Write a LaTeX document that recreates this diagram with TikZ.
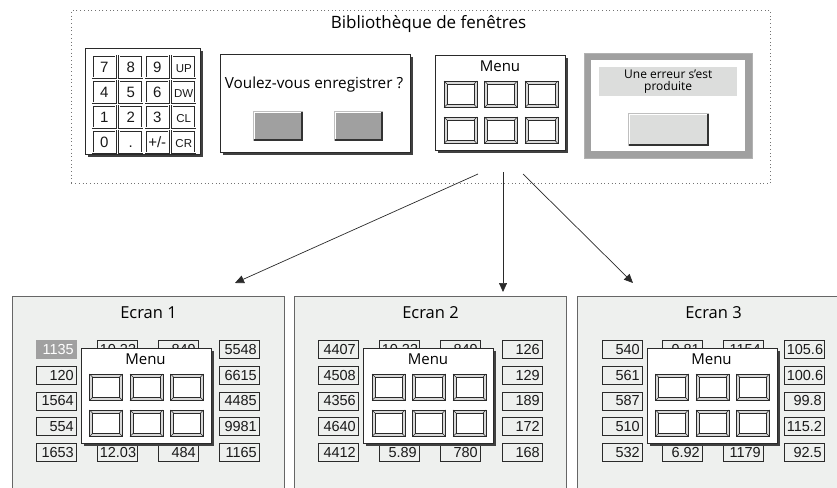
\documentclass[tikz,border=0pt]{standalone}
\usepackage{fontspec}
\setmainfont{Open Sans}
\newfontfamily\arialf{Liberation Sans}
\usetikzlibrary{arrows.meta,shadows,calc}
\definecolor{scrbg}{HTML}{EEF0EE}
\definecolor{btngray}{HTML}{A0A0A0}
\definecolor{lightbtn}{HTML}{DCDDDC}
\definecolor{edge}{HTML}{2A2A2A}
\newcommand\mbtn[2]{%
  \filldraw[fill=black!15, draw=edge, line width=0.6pt] (#1,#2) rectangle ++(33,26.5);
  \filldraw[fill=white, draw=edge, line width=0.6pt] (#1+3,#2+3) rectangle ++(27,20.5);
  \draw[edge, line width=0.4pt] (#1,#2) -- ++(3,3) (#1+33,#2) -- ++(-3,3)
        (#1,#2+26.5) -- ++(3,-3) (#1+33,#2+26.5) -- ++(-3,-3);}
\newcommand\menupanel[3]{%
  \node[win, minimum width=130pt, minimum height=95pt] (#3) at (#1,#2) {};
  \node[ttl, font=\fontsize{15}{17}\selectfont] (#3-t) at (#1+65,#2+11) {Menu};
  \foreach \c in {0,1,2}{\foreach \r in {0,1}{\mbtn{#1+9+40.5*\c}{#2+26+36*\r}}}}
\newcommand\bevbtn[6]{%
  \node[fill=#5, draw=black!25, line width=0.5pt, minimum width=#3pt, minimum height=#4pt, anchor=north west, inner sep=0pt] (#6) at (#1,#2) {};
  \draw[white, line width=1.2pt] ([xshift=1.5pt,yshift=1.5pt]#6.south west) -- ([xshift=1.5pt,yshift=-1.5pt]#6.north west) -- ([xshift=-1.5pt,yshift=-1.5pt]#6.north east);
  \draw[black!80, line width=1.4pt] ([xshift=0.7pt,yshift=0.7pt]#6.south west) -- ([xshift=-0.7pt,yshift=0.7pt]#6.south east) -- ([xshift=-0.7pt,yshift=-0.7pt]#6.north east);}
\begin{document}
\begin{tikzpicture}[x=1pt,y=-1pt,
  win/.style={draw=edge, fill=white, line width=0.8pt, inner sep=0pt, anchor=north west,
    drop shadow={shadow xshift=3pt, shadow yshift=-3pt, fill=black!75, opacity=1}},
  ttl/.style={inner sep=0pt, text=black},
  kb/.style={draw=edge, double=white, double distance=0.8pt, line width=0.5pt,
    minimum width=23pt, minimum height=22pt, inner sep=0pt, anchor=north west,
    text height=10.5pt, text depth=0pt,
    font=\arialf\fontsize{15}{15}\selectfont, text=black!90},
  numb/.style={draw=edge, line width=0.6pt, minimum height=18pt, text width=35pt,
    inner xsep=2.5pt, inner ysep=0pt, align=right, anchor=north west,
    font=\arialf\fontsize{14.5}{14.5}\selectfont, text=black!90},
  scr/.style={draw=black!60, fill=scrbg, line width=0.8pt, anchor=north west,
    minimum width=272pt, minimum height=200pt, inner sep=0pt},
  arr/.style={draw=edge, line width=0.7pt, -{Triangle[length=9pt,width=8pt]}}]
\useasboundingbox (0,0) rectangle (837,487);
\clip (0,0) rectangle (837,487);
% library frame
\node[draw=black!55, dash pattern=on 0.9pt off 2.8pt, line width=0.9pt, anchor=north west,
  minimum width=699pt, minimum height=173pt, inner sep=0pt] (lib) at (71,10) {};
\node[ttl, font=\fontsize{17}{19}\selectfont] (libt) at (428.5,24) {Bibliothèque de fenêtres};
% keypad
\node[win, minimum width=115pt, minimum height=106pt] (kpad) at (85,48) {};
\foreach \row [count=\j from 0] in {{7,8,9,UP},{4,5,6,DW},{1,2,3,CL},{0,.,+/-,CR}}{
  \foreach \lab [count=\i from 0] in \row {
    \node[kb] (k-\i-\j) at (92.5+26.5*\i,55.5+25*\j) {\ifnum\i=3 \fontsize{11.5}{11.5}\selectfont\fi\lab};}}
% dialog
\node[win, minimum width=190pt, minimum height=98pt] (dlg) at (220,54) {};
\node[ttl, font=\fontsize{15.3}{18}\selectfont] (dlgt) at (314,85) {Voulez-vous enregistrer ?};
\bevbtn{253}{111}{49}{29}{btngray}{yes}
\bevbtn{334}{111}{48}{29}{btngray}{no}
% menu
\menupanel{435}{55}{menu}
% error
\node[fill=btngray, draw=black!30, line width=0.5pt, anchor=north west, minimum width=168pt, minimum height=105pt, inner sep=0pt] (err) at (584,53) {};
\node[fill=white, anchor=north west, minimum width=154pt, minimum height=91pt, inner sep=0pt] (erri) at (591,60) {};
\node[fill=lightbtn, anchor=north west, minimum width=138pt, minimum height=29pt, inner sep=0pt,
  align=center, font=\fontsize{12}{12.5}\selectfont, text=black] (errt) at (599,67) {Une erreur s'est\\produite};
\bevbtn{628}{113}{80}{32}{lightbtn}{ok}
% arrows
\coordinate (a1s) at (478,174); \coordinate (a1e) at (235,283);
\coordinate (a2s) at (503,172); \coordinate (a2e) at (503,292);
\coordinate (a3s) at (523,174); \coordinate (a3e) at (633,283);
\draw[arr] (a1s) -- (a1e);
\draw[arr] (a2s) -- (a2e);
\draw[arr] (a3s) -- (a3e);
% screens
\foreach \L/\n/\ta/\tb/\tc/\td in {12/1/10.23/12.03/849/484, 294/2/10.23/5.89/849/780, 577/3/9.81/6.92/1154/1179}{
  \node[scr] (ecr\n) at (\L,296) {};
  \node[ttl, font=\fontsize{16.5}{19}\selectfont] (ecr\n-t) at (\L+136.5,313) {Ecran \n};
  \node[numb] (e\n-b1) at (\L+85,340) {\ta};
  \node[numb] (e\n-b5) at (\L+85,443) {\tb};
  \node[numb] (e\n-c1) at (\L+146,340) {\tc};
  \node[numb] (e\n-c5) at (\L+146,443) {\td};
}
\menupanel{80.5}{348}{m1}
\menupanel{363}{348}{m2}
\menupanel{646.5}{348}{m3}
% screen 1 values
\node[numb, fill=btngray, draw=btngray, text=white] (e1-a0) at (36,340) {1135};
\foreach \v [count=\r from 1] in {120,1564,554,1653}{\node[numb] (e1-a\r) at (36,340+25.75*\r) {\v};}
\foreach \v [count=\r from 0] in {5548,6615,4485,9981,1165}{\node[numb] (e1-d\r) at (219,340+25.75*\r) {\v};}
% screen 2 values
\foreach \v [count=\r from 0] in {4407,4508,4356,4640,4412}{\node[numb] (e2-a\r) at (318,340+25.75*\r) {\v};}
\foreach \v [count=\r from 0] in {126,129,189,172,168}{\node[numb] (e2-d\r) at (502,340+25.75*\r) {\v};}
% screen 3 values
\foreach \v [count=\r from 0] in {540,561,587,510,532}{\node[numb] (e3-a\r) at (602,340+25.75*\r) {\v};}
\foreach \v [count=\r from 0] in {105.6,100.6,99.8,115.2,92.5}{\node[numb] (e3-d\r) at (784,340+25.75*\r) {\v};}
\end{tikzpicture}
\end{document}
